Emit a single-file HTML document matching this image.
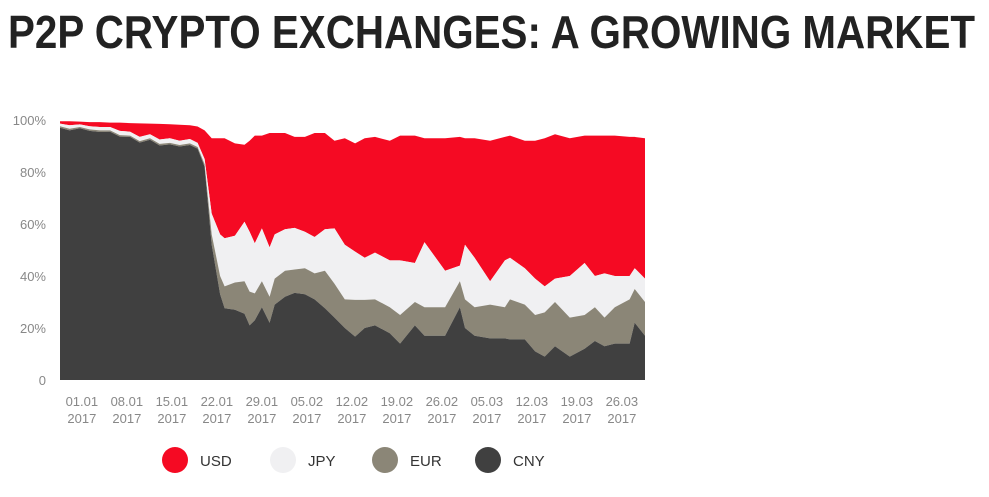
<!DOCTYPE html>
<html><head><meta charset="utf-8"><style>
body{margin:0;background:#fff;width:989px;height:492px;overflow:hidden;font-family:"Liberation Sans",sans-serif}
</style></head><body>
<svg id="chart" width="989" height="492" xmlns="http://www.w3.org/2000/svg">
<text x="8" y="48" font-family="'Liberation Sans Narrow','Liberation Sans',sans-serif" font-weight="bold" font-size="46" fill="#222" textLength="967" lengthAdjust="spacingAndGlyphs">P2P CRYPTO EXCHANGES: A GROWING MARKET</text>
<g id="areas"></g>
<g id="yaxis"></g>
<g id="xaxis"></g>
<g id="legend"></g>
</svg>
<script>
// days since 01.01.2017
const days=[-3.4,-1.9,-0.3,1.2,2.8,4.4,5.9,7.5,9,10.6,12.1,13.7,15.2,16.8,18,19.1,20.2,21.5,22.2,23.8,25.3,26.1,26.9,28,29.2,30,31.6,33.1,34.7,36.2,37.8,39.3,40.9,42.5,44,45.6,47.9,49.5,51.8,53.3,56.5,58.8,59.6,61.1,63.5,65.8,66.6,68.9,70.5,72,73.6,75.9,78.2,79.8,81.3,82.9,85.2,86,87.6];
// cumulative stacked shares (%)
const cnyCum=[97,96,96.8,95.8,95.4,95.5,93.6,93.5,91.3,92.4,90.2,90.6,89.8,90.4,89,82,52,33,27.6,27,25.5,21,23,28,22,29,32,33.5,33,31,27.6,24,20,16.7,20,21,18,14,21,17,17,28,20,17,16,16,15.6,15.6,11,9,13,9,12,15,13,14,14,22,17];
const eurCum=[97.6,96.6,97.3,96.4,96,96,94.2,94,91.9,93,90.8,91.2,90.4,91,89.6,83,56,40,36,37.5,38,34,33.3,38,32,39,42,42.5,43,41,42,37,31,30.8,30.8,31,28,25,30,28,28,38,31,28,29,28,31,29,25,26,30,24,25,28,24,28,31,35,30];
const jpyCum=[98.6,98,98.3,97.6,97.3,97.3,95.8,95.5,93.5,94.5,92.5,93,92,92.7,91.2,85,64,56,54.5,55.5,60.9,57,52.6,58.3,51,56,58,58.5,57,55,58,58.3,52,49.4,47,49,46,46,45,53,42,44,52,47,38,46,47,43,39,36,39,40,45,40,41,40,40,43,39];
const usdCum=[99.5,99.5,99.4,99.2,99.2,99,99,98.8,98.7,98.6,98.5,98.4,98.2,98,97.5,96,93,93,93,91,90.5,92,94,94,95,95,95,93.5,93.5,95,95,92,93,91,93,93.5,92,94,94,93,93,93.5,93,93,92,93.5,94,92,92,93,94.5,93,94,94,94,94,93.5,93.5,93];
const seriesNames=["USD","JPY","EUR","CNY"];
const yTicks=[0,20,40,60,80,100];
const xTickDays=[0,7,14,21,28,35,42,49,56,63,70,77,84];
const xTickLabels=["01.01","08.01","15.01","22.01","29.01","05.02","12.02","19.02","26.02","05.03","12.03","19.03","26.03"];
const colors={USD:"#f50a23",JPY:"#f0f0f2",EUR:"#8b8677",CNY:"#404040"};
const NS="http://www.w3.org/2000/svg";
const X0=60,X1=645,Y0=380,Y1=120,D0=-3.4,D1=87.6;
const xs=d=>X0+(d-D0)/(D1-D0)*(X1-X0);
const ys=v=>Y0-v/100*(Y0-Y1);
function mk(tag,attrs,parent){const e=document.createElementNS(NS,tag);for(const k in attrs)e.setAttribute(k,attrs[k]);parent.appendChild(e);return e;}
const areas=document.getElementById('areas');
const layers=[["USD",usdCum,jpyCum],["JPY",jpyCum,eurCum],["EUR",eurCum,cnyCum],["CNY",cnyCum,null]];
layers.forEach(([name,top,bot])=>{
  let d="M"+days.map((dd,i)=>xs(dd).toFixed(1)+","+ys(top[i]).toFixed(1)).join("L");
  for(let i=days.length-1;i>=0;i--){d+="L"+xs(days[i]).toFixed(1)+","+ys(bot?bot[i]:0).toFixed(1);}
  d+="Z";
  const p=mk('path',{d:d,fill:colors[name]},areas);
  
  
});
const ya=document.getElementById('yaxis');
yTicks.forEach(t=>{
  const e=mk('text',{x:46,y:ys(t)+5,'text-anchor':'end','font-size':13,fill:'#888'},ya);
  e.textContent=t===0?"0":t+"%";
  
  
});
const xa=document.getElementById('xaxis');
xTickDays.forEach((d,i)=>{
  const g=mk('text',{x:xs(d),y:406,'text-anchor':'middle','font-size':13,fill:'#888'},xa);
  
  
  const a=mk('tspan',{x:xs(d),dy:0},g);a.textContent=xTickLabels[i];
  const b=mk('tspan',{x:xs(d),dy:17},g);b.textContent="2017";
});
const lg=document.getElementById('legend');
const lx=[175,283,385,488];
seriesNames.forEach((n,i)=>{
  const c=mk('circle',{cx:lx[i],cy:460,r:13,fill:colors[n]},lg);
  
  
  const t=mk('text',{x:lx[i]+25,y:466,'font-size':15,fill:'#333'},lg);
  t.textContent=n;
  
  
});
</script>
</body></html>
